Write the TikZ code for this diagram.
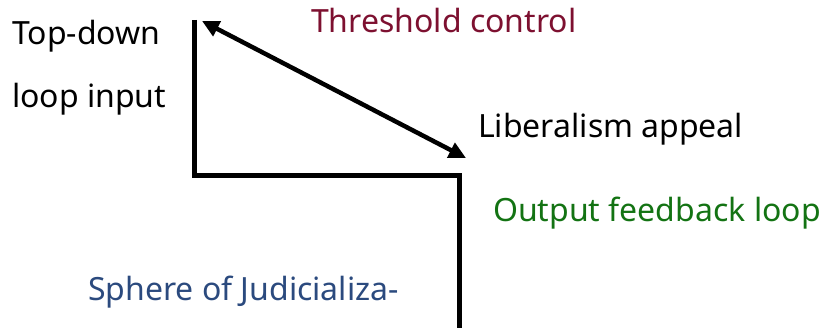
\documentclass[tikz,border=0pt]{standalone}
\usepackage{fontspec}
\setmainfont{Noto Sans}
\usetikzlibrary{arrows.meta}
\definecolor{thrcol}{HTML}{7D1030}
\definecolor{outcol}{HTML}{137313}
\definecolor{sphcol}{HTML}{2B4A7E}
\tikzset{
  lbl/.style={anchor=base west, inner sep=0pt, font=\fontsize{32}{38}\selectfont},
  wire/.style={line width=5.5pt},
  dbl/.style={line width=4.5pt, {Triangle[length=17pt,width=16pt]}-{Triangle[length=17pt,width=16pt]}}
}
\begin{document}
\begin{tikzpicture}[x=1pt,y=-1pt]
\useasboundingbox (0,0) rectangle (826,328);
\coordinate (vtop) at (194.5,20);
\coordinate (corner1) at (194.5,175.3);
\coordinate (corner2) at (459.5,175.3);
\coordinate (vbot) at (459.5,335);
\coordinate (atop) at (202,21);
\coordinate (abot) at (466,158);
\draw[wire, line join=miter] (vtop) -- (corner1) -- (corner2) -- (vbot);
\draw[dbl] (atop) -- (abot);
\node[lbl] (td) at (12,45) {Top-down};
\node[lbl] (li) at (12,108) {loop input};
\node[lbl, text=thrcol] (thr) at (311,33) {Threshold control};
\node[lbl] (lib) at (478,138) {Liberalism appeal};
\node[lbl, text=outcol] (out) at (493,222) {Output feedback loop};
\node[lbl, text=sphcol] (sph) at (88,300) {Sphere of Judicializa-};
\end{tikzpicture}
\end{document}
